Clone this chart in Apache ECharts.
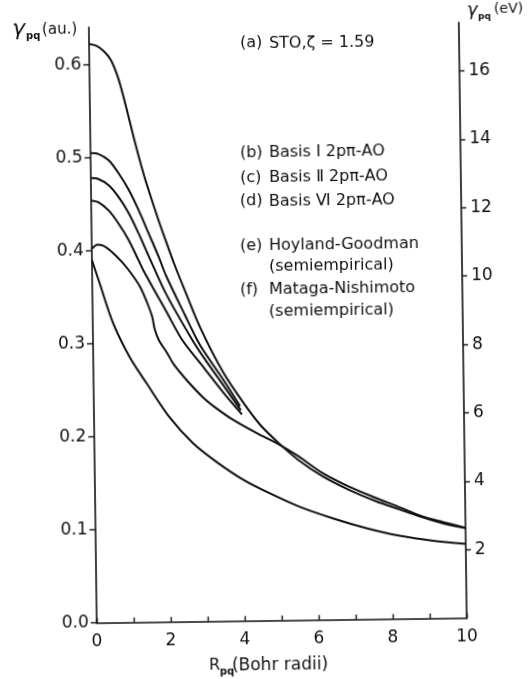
<!DOCTYPE html>
<html>
<head>
<meta charset="utf-8">
<script src="https://cdn.jsdelivr.net/npm/echarts@6/dist/echarts.min.js"></script>
<style>
  html, body { margin: 0; padding: 0; background: #fff; }
  /* the scanned figure sits slightly tilted, so the whole chart is turned a little */
  #chart { width: 532px; height: 679px; transform: rotate(-0.76deg); }
</style>
</head>
<body>
<div id="chart"></div>
<script>
// gamma_pq (a.u.) against R_pq (Bohr radii)
const curveA = [[0,0.622],[0.2,0.62],[0.4,0.614],[0.58,0.605],[0.76,0.587],[0.93,0.562],[1.18,0.52],[1.44,0.48],[1.78,0.436],[2.0,0.41],[2.21,0.386],[2.5,0.356],[2.9,0.316],[3.5,0.268],[4.05,0.234],[4.5,0.21],[5.0,0.19],[5.5,0.1725],[6.15,0.1545],[6.86,0.1395],[7.58,0.127],[8.2,0.118],[8.8,0.1095],[9.4,0.102],[10,0.0965]]
const curveB = [[0,0.505],[0.2,0.504],[0.49,0.497],[0.75,0.483],[1.02,0.465],[1.28,0.443],[1.54,0.418],[1.8,0.393],[2.0,0.372],[2.5,0.329],[2.81,0.303],[3.0,0.29],[3.5,0.26],[3.95,0.231]]
const curveC = [[0,0.478],[0.2,0.477],[0.48,0.47],[0.74,0.4575],[1.01,0.44],[1.27,0.418],[1.53,0.394],[2.0,0.352],[2.68,0.303],[3.0,0.283],[3.5,0.254],[3.97,0.2265]]
const curveD = [[0,0.454],[0.2,0.452],[0.47,0.443],[0.73,0.429],[1.0,0.411],[1.26,0.389],[1.39,0.378],[2.0,0.333],[2.41,0.303],[3.0,0.272],[3.5,0.246],[4.0,0.222]]
const curveE = [[0,0.402],[0.15,0.4065],[0.3,0.4055],[0.5,0.4],[0.8,0.388],[1.04,0.376],[1.3,0.36],[1.48,0.343],[1.61,0.328],[1.67,0.315],[1.78,0.303],[2.0,0.289],[2.17,0.277],[2.51,0.26],[2.95,0.241],[3.31,0.229],[3.77,0.216],[4.4,0.2015],[5.0,0.189],[5.5,0.1765],[6.15,0.158],[6.86,0.143],[7.58,0.1305],[8.2,0.1205],[8.8,0.1105],[9.4,0.1035],[10,0.097]]
const curveF = [[0,0.39],[0.2,0.365],[0.55,0.322],[0.99,0.285],[1.43,0.257],[2.04,0.22],[2.66,0.192],[3.29,0.1715],[4.02,0.1515],[4.63,0.1386],[5.52,0.122],[6.42,0.109],[7.32,0.098],[8.22,0.0893],[9.12,0.0835],[10,0.0798]]

const xTicks = [0,1,2,3,4,5,6,7,8,9,10]
const xLabels = [0,2,4,6,8,10]
const auTicks = [0,0.1,0.2,0.3,0.4,0.5,0.6]
const evTicks = [2,4,6,8,10,12,14,16]
const AU_TO_EV = 27.211
const AU_MAX = 0.64

const noteTags = ['(a)','(b)','(c)','(d)','(e)','','(f)','']
const noteTexts = ['STO,ζ = 1.59','Basis Ⅰ 2pπ-AO','Basis Ⅱ 2pπ-AO','Basis Ⅵ 2pπ-AO','Hoyland-Goodman','(semiempirical)','Mataga-Nishimoto','(semiempirical)']

// layout (positions measured on the picture, then turned back into the chart frame)
const noteRowY = [43.5,153,178,201.5,246,266.5,290,311.5]
const TILT = 0.76 * Math.PI / 180
function unrot(x, y) {
  const dx = x - 266, dy = y - 339.5
  return [266 + dx * Math.cos(TILT) - dy * Math.sin(TILT), 339.5 + dx * Math.sin(TILT) + dy * Math.cos(TILT)]
}
function txt(s, x, y, font, align) {
  const p = unrot(x, y)
  return {
    type: 'text', x: p[0], y: p[1],
    style: { text: s, font: font, fill: '#111', align: align || 'left', verticalAlign: 'middle' }
  }
}

const FONT = '"DejaVu Sans", sans-serif'
const ink = '#111'

const graphics = []
noteTexts.forEach((t, i) => {
  if (noteTags[i]) graphics.push(txt(noteTags[i], 240, noteRowY[i], '16px ' + FONT))
  graphics.push(txt(t, 269, noteRowY[i], '16px ' + FONT))
})
// axis names
graphics.push(txt('γ', 12, 30, 'italic 22px ' + FONT))
graphics.push(txt('pq', 26, 37, 'bold 10px ' + FONT))
graphics.push(txt('(au.)', 42, 30, '15px ' + FONT))
graphics.push(txt('γ', 467, 11, 'italic 18px ' + FONT))
graphics.push(txt('pq', 478, 17, 'bold 9px ' + FONT))
graphics.push(txt('(eV)', 494, 9, '14px ' + FONT))
graphics.push(txt('R', 209, 666, '16px ' + FONT))
graphics.push(txt('pq', 220, 672, 'bold 10px ' + FONT))
graphics.push(txt('(Bohr radii)', 232, 666, '17px ' + FONT))

function line(name, data) {
  return {
    name: name, type: 'line', data: data, yAxisIndex: 0,
    showSymbol: false, smooth: 0.3,
    lineStyle: { color: ink, width: 2 }
  }
}

const axisLine = { show: true, onZero: false, lineStyle: { color: ink, width: 1.6 } }

const chart = echarts.init(document.getElementById('chart'))
chart.setOption({
  animation: false,
  backgroundColor: '#fff',
  grid: { left: 93, right: 69, top: 25.1, bottom: 58.3, containLabel: false },
  xAxis: {
    type: 'value', min: 0, max: 10,
    axisLine: axisLine,
    axisTick: { inside: true, length: 5, customValues: xTicks, lineStyle: { color: ink, width: 1.4 } },
    axisLabel: { customValues: xLabels, margin: 10, fontSize: 17, color: ink, fontFamily: FONT },
    splitLine: { show: false }
  },
  yAxis: [
    {
      type: 'value', min: 0, max: AU_MAX, position: 'left',
      axisLine: axisLine,
      axisTick: { length: 6, customValues: auTicks, lineStyle: { color: ink, width: 1.4 } },
      axisLabel: { customValues: auTicks, margin: 8, fontSize: 17, color: ink, fontFamily: FONT,
        formatter: v => v.toFixed(1) },
      splitLine: { show: false }
    },
    {
      type: 'value', min: 0, max: AU_MAX * AU_TO_EV, position: 'right',
      axisLine: axisLine,
      axisTick: { length: 5, customValues: evTicks, lineStyle: { color: ink, width: 1.4 } },
      axisLabel: { customValues: evTicks, margin: 9, fontSize: 17, color: ink, fontFamily: FONT },
      splitLine: { show: false }
    }
  ],
  series: [
    line('STO', curveA),
    line('Basis I', curveB),
    line('Basis II', curveC),
    line('Basis VI', curveD),
    line('Hoyland-Goodman', curveE),
    line('Mataga-Nishimoto', curveF)
  ],
  graphic: graphics
})
</script>
</body>
</html>
